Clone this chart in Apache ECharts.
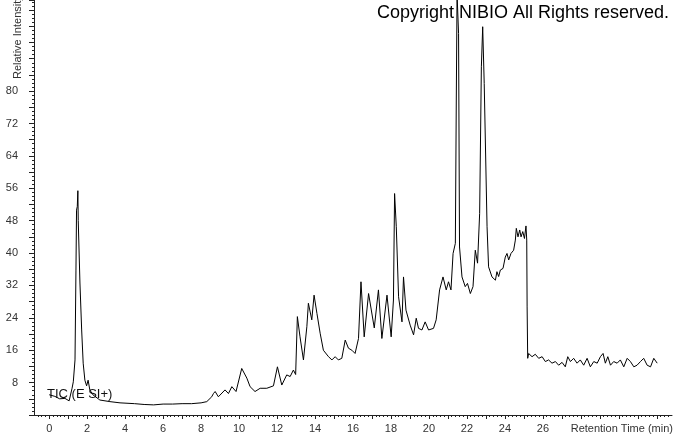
<!DOCTYPE html>
<html>
<head>
<meta charset="utf-8">
<script src="https://cdn.jsdelivr.net/npm/echarts@6/dist/echarts.min.js"></script>
<style>
html,body{margin:0;padding:0;background:#fff;}
#chart{width:674px;height:434px;}
</style>
</head>
<body>
<div id="chart"></div>
<script>
// Retention time (min)
const times = [
0.00,0.30,0.55,0.83,1.05,1.20,1.27,1.36,1.41,1.44,1.48,1.51,1.53,1.62,1.71,1.79,1.88,1.97,2.05,2.14,
2.30,2.67,3.20,3.73,4.50,5.00,5.50,6.00,6.50,7.00,7.50,8.00,8.30,8.56,8.65,8.74,8.91,9.26,9.44,9.62,
9.84,10.14,10.41,10.58,10.84,11.11,11.46,11.81,12.02,12.25,12.51,12.69,12.86,12.98,13.07,13.21,13.39,13.57,13.65,13.83,
13.95,14.10,14.27,14.44,14.71,14.89,15.06,15.23,15.41,15.59,15.76,15.94,16.11,16.29,16.42,16.59,16.82,17.12,17.34,17.52,
17.79,18.01,18.13,18.19,18.28,18.40,18.58,18.66,18.79,19.01,19.19,19.33,19.45,19.63,19.80,19.98,20.24,20.38,20.56,20.74,
20.91,21.03,21.16,21.27,21.39,21.44,21.48,21.56,21.61,21.74,21.91,22.03,22.18,22.32,22.44,22.56,22.67,22.76,22.83,22.91,
23.06,23.14,23.32,23.50,23.58,23.67,23.76,23.90,24.02,24.11,24.20,24.32,24.46,24.55,24.60,24.69,24.78,24.85,24.94,25.03,
25.11,25.15,25.17,25.20,25.25,25.43,25.60,25.78,25.96,26.13,26.30,26.48,26.66,26.83,27.01,27.18,27.31,27.45,27.62,27.80,
27.97,28.15,28.33,28.50,28.68,28.86,29.03,29.17,29.29,29.42,29.56,29.73,29.91,30.08,30.26,30.44,30.61,30.79,30.96,31.14,
31.31,31.49,31.67,31.84,32.02
];
// Relative intensity
const intensity = [
5.0,4.6,4.0,4.1,3.5,6.5,8.2,13.6,35.8,50.6,51.5,55.4,48.0,32.6,21.0,12.8,8.6,7.2,8.6,6.2,
5.0,3.7,3.3,3.0,2.8,2.6,2.5,2.7,2.7,2.8,2.8,3.0,3.3,4.5,5.3,5.8,4.5,6.2,5.3,7.0,
5.8,11.5,9.1,7.0,5.8,6.6,6.6,7.2,11.9,7.4,9.9,9.5,11.1,10.0,24.3,19.3,13.6,21.8,27.6,23.5,
29.6,25.1,20.2,16.0,14.4,13.6,14.4,13.6,14.0,18.5,16.5,16.0,15.2,18.9,32.9,19.3,30.0,21.5,30.9,18.9,
29.6,19.3,28.4,54.7,46.5,29.2,23.0,34.1,25.9,22.2,19.8,23.9,21.4,21.0,23.0,21.0,21.4,23.5,30.9,34.1,
30.9,32.9,30.9,39.9,42.4,77.8,104,94.2,41.5,34.1,31.7,32.5,30.0,31.7,40.7,37.5,49.8,86.0,95.9,81.9,
46.5,36.6,34.1,33.3,35.4,34.2,35.8,36.2,39.0,39.9,38.3,39.9,40.7,43.2,46.1,44.0,45.7,44.0,45.3,43.6,
46.7,43.2,26.7,14.0,15.2,14.4,15.0,14.0,14.4,13.2,13.6,12.8,13.2,12.3,13.0,11.9,14.4,13.2,14.0,12.8,
13.6,12.3,14.0,11.9,13.2,12.8,14.4,15.2,12.8,14.4,12.3,13.2,12.8,13.6,11.9,14.0,13.2,11.9,12.3,13.2,
14.0,12.3,11.9,14.0,12.8
];
const xTickLabels = [0,2,4,6,8,10,12,14,16,18,20,22,24,26];
const yTickLabels = [8,16,24,32,40,48,56,64,72,80];
const xMajorTicks = [];
for (let i = 0; i <= 32; i++) xMajorTicks.push(i);
const xMinorTicks = [];
for (let i = -3; i <= 163; i++) { if (i % 5 !== 0) xMinorTicks.push(+(i * 0.2).toFixed(1)); }

const chart = echarts.init(document.getElementById('chart'), null, {renderer: 'canvas'});
const FONT = 'Liberation Sans, Arial, sans-serif';
const axisColor = '#222';
const option = {
  animation: false,
  backgroundColor: '#fff',
  grid: {left: 34, right: 2, top: 0, bottom: 19, outerBoundsMode: 'none', containLabel: false},
  xAxis: [{
    type: 'value', min: -0.8, max: 32.8, position: 'bottom',
    splitLine: {show: false},
    axisLine: {show: true, onZero: false, lineStyle: {color: axisColor, width: 1}},
    axisTick: {show: true, customValues: xMajorTicks, length: 4, lineStyle: {color: axisColor}},
    axisLabel: {show: true, customValues: xTickLabels, margin: 8, color: '#333', fontSize: 11, fontFamily: FONT}
  }, {
    type: 'value', min: -0.8, max: 32.8, position: 'bottom', gridIndex: 0,
    splitLine: {show: false},
    axisLine: {show: false, onZero: false},
    axisTick: {show: true, customValues: xMinorTicks, length: 2, lineStyle: {color: axisColor}},
    axisLabel: {show: false}
  }],
  yAxis: {
    type: 'value', min: 0, max: 102.5, interval: 4,
    splitLine: {show: false},
    axisLine: {show: true, onZero: false, lineStyle: {color: axisColor, width: 1}},
    axisTick: {show: true, length: 5, lineStyle: {color: axisColor}},
    minorTick: {show: true, splitNumber: 4, length: 2, lineStyle: {color: axisColor}},
    axisLabel: {
      margin: 16, color: '#333', fontSize: 11, fontFamily: FONT,
      showMaxLabel: false,
      formatter: function (v) { return yTickLabels.indexOf(Math.round(v)) >= 0 && Math.abs(v - Math.round(v)) < 1e-6 ? String(Math.round(v)) : ''; }
    }
  },
  series: [{
    type: 'line',
    data: times.map((t, i) => [t, intensity[i]]),
    symbol: 'none', smooth: false, clip: true,
    lineStyle: {color: '#000', width: 1},
    itemStyle: {color: '#000'}
  }],
  graphic: [
    {type: 'text', x: 18, y: 79, rotation: Math.PI / 2,
     style: {text: 'Relative Intensity', fill: '#333', font: '11px ' + FONT, textAlign: 'left', textVerticalAlign: 'middle'}},
    {type: 'text', x: 673, y: 429,
     style: {text: 'Retention Time (min)', fill: '#333', font: '11px ' + FONT, textAlign: 'right', textVerticalAlign: 'middle'}},
    {type: 'text', x: 377, y: 13,
     style: {text: 'Copyright NIBIO All Rights reserved.', fill: '#000', font: '18px ' + FONT, textAlign: 'left', textVerticalAlign: 'middle'}},
    {type: 'text', x: 47, y: 394,
     style: {text: 'TIC (E SI+)', fill: '#111', font: '13px ' + FONT, textAlign: 'left', textVerticalAlign: 'middle'}}
  ]
};
chart.setOption(option);
</script>
</body>
</html>
